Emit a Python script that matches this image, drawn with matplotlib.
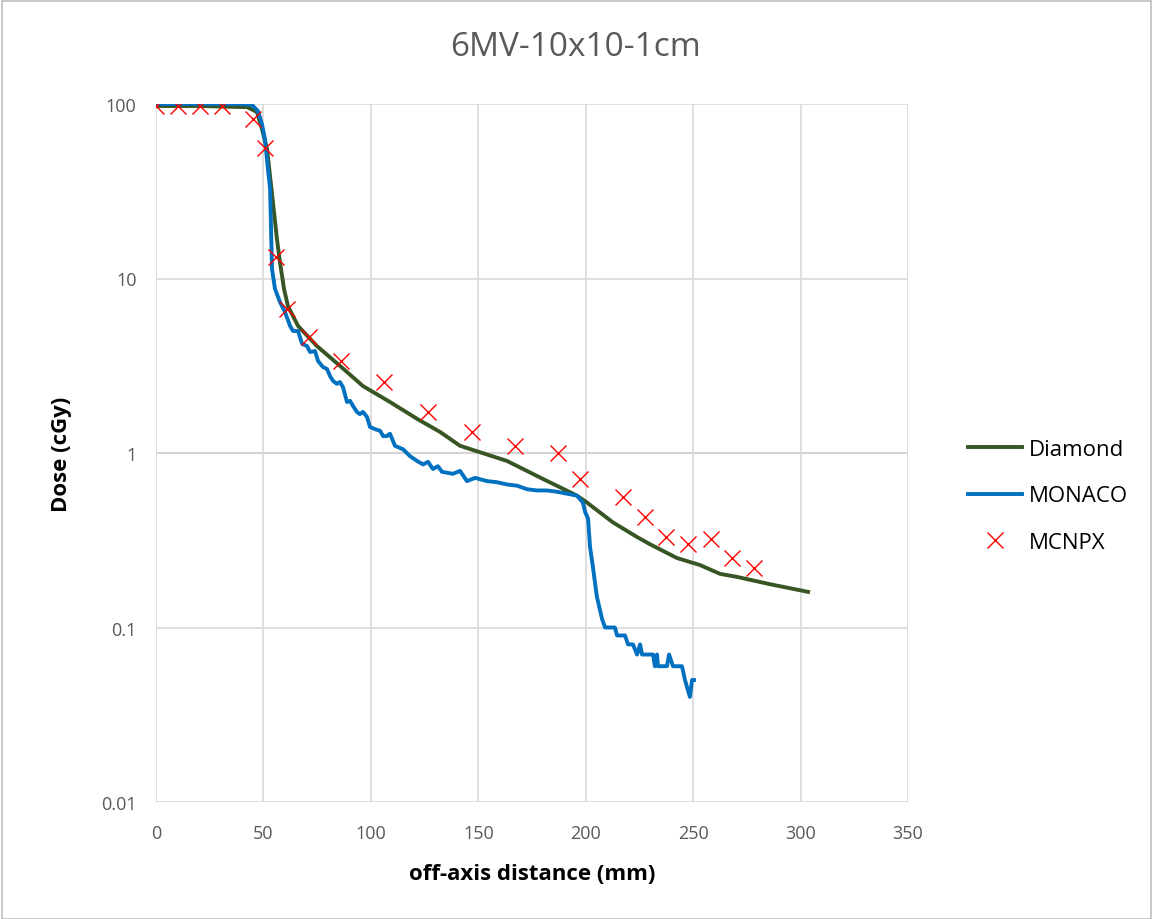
import matplotlib
matplotlib.use("Agg")
import matplotlib.pyplot as plt
from matplotlib.patches import Rectangle

title = "6MV-10x10-1cm"
xlabel = "off-axis distance (mm)"
ylabel = "Dose (cGy)"

diamond_x = [0, 20.5, 39.1, 42.4, 47.0, 49.3, 51.7, 54.0, 56.3, 57.7, 59.6, 61.4, 66.1, 74.9,
             85.6, 96.3, 108.9, 121.5, 132.2, 141.5, 150.8, 163.4, 180.1, 195.9, 200.6, 212.7,
             223.9, 229.9, 242.5, 253.2, 262.5, 270.4, 285.8, 303.5]
diamond_y = [97.4, 97.4, 96.1, 96.0, 90, 72, 55, 30.5, 16.8, 12.4, 8.7, 6.95, 5.35, 4.1,
             3.16, 2.42, 1.96, 1.57, 1.32, 1.10, 1.01, 0.90, 0.71, 0.57, 0.52, 0.40,
             0.33, 0.30, 0.25, 0.228, 0.203, 0.195, 0.177, 0.16]

monaco_x = [0, 39.1, 44.7, 47.5, 49.3, 50.7, 52.1, 53.1, 54.0, 55.4, 57.7, 60.0, 62.4, 63.8,
            66.1, 68.0, 70.3, 71.7, 74.0, 75.4, 77.7, 79.6, 81.0, 82.4, 84.2, 85.6, 87.0,
            88.9, 90.3, 91.7, 93.5, 94.9, 96.3, 98.2, 99.6, 101.9, 104.3, 105.7, 107.5,
            108.9, 111.2, 115.0, 118.2, 121.5, 124.3, 126.6, 128.9, 131.2, 133.1, 138.2,
            141.5, 144.7, 148.5, 154.1, 158.7, 163.4, 168.0, 172.7, 177.3, 182.0, 186.6,
            192.7, 195.9, 198.7, 199.7, 201.1, 202.0, 203.4, 205.2, 207.6, 209.0, 213.6,
            214.6, 218.3, 219.7, 222.0, 223.9, 225.3, 226.2, 231.3, 232.2, 233.2, 233.6,
            237.8, 238.8, 240.6, 244.8, 246.2, 248.5, 249.5, 250.4]
monaco_y = [100, 100, 98.7, 91, 76.8, 63, 42.5, 32.6, 11.3, 8.7, 7.33, 6.43, 5.35, 5.0,
            5.0, 4.22, 4.10, 3.79, 3.84, 3.37, 3.11, 3.03, 2.76, 2.59, 2.49, 2.55, 2.39,
            1.96, 1.99, 1.86, 1.72, 1.67, 1.72, 1.61, 1.41, 1.37, 1.34, 1.25, 1.25,
            1.29, 1.10, 1.05, 0.96, 0.90, 0.86, 0.89, 0.81, 0.84, 0.78, 0.76,
            0.79, 0.69, 0.72, 0.69, 0.68, 0.66, 0.65, 0.62, 0.61, 0.61, 0.60,
            0.58, 0.57, 0.52, 0.46, 0.42, 0.29, 0.22, 0.15, 0.112, 0.10, 0.10,
            0.09, 0.09, 0.08, 0.08, 0.07, 0.08, 0.07, 0.07, 0.06, 0.07, 0.06,
            0.06, 0.07, 0.06, 0.06, 0.05, 0.04, 0.05, 0.05]

mcnpx_x = [0, 10.2, 20.5, 30.7, 45.1, 50.7, 55.9, 61.0, 71.2, 86.1, 106.1, 126.6, 147.0,
           167.0, 187.0, 197.3, 217.3, 227.6, 237.4, 247.6, 258.3, 268.0, 278.3]
mcnpx_y = [97.4, 98, 98, 98, 82, 56, 13.3, 6.7, 4.6, 3.37, 2.55, 1.72, 1.32,
           1.10, 1.0, 0.71, 0.56, 0.43, 0.33, 0.30, 0.32, 0.25, 0.22]

xticks = [0, 50, 100, 150, 200, 250, 300, 350]
yticks = [0.01, 0.1, 1, 10, 100]
ytick_labels = ["0.01", "0.1", "1", "10", "100"]

plt.rcParams['font.family'] = ['Open Sans', 'DejaVu Sans']

W, H = 1153, 920
fig = plt.figure(figsize=(W / 100, H / 100), dpi=100)
ax = fig.add_axes([156 / W, 1 - 803 / H, (908 - 156) / W, (803 - 105) / H])

ax.plot(diamond_x, diamond_y, color="#375623", lw=2.8, label="Diamond", zorder=3,
        solid_joinstyle="round")
ax.plot(monaco_x, monaco_y, color="#0070C0", lw=2.8, label="MONACO", zorder=4,
        solid_joinstyle="round")
ax.plot(mcnpx_x, mcnpx_y, linestyle="none", marker="x", color="#FF0000", ms=11,
        mew=1.0, label="MCNPX", zorder=5)

ax.set_yscale("log")
ax.set_xlim(0, 350)
ax.set_ylim(0.01, 100)
ax.set_xticks(xticks)
ax.set_yticks(yticks)
ax.set_yticklabels(ytick_labels)
ax.minorticks_off()
ax.tick_params(axis="both", length=0, labelsize=13, labelcolor="#595959")
ax.tick_params(axis="x", pad=16)
ax.tick_params(axis="y", pad=14)
ax.grid(True, color="#d9d9d9", lw=1.2, zorder=0)
ax.axhline(1, color="#bfbfbf", lw=1.5, zorder=1)
for s in ["top", "right", "left", "bottom"]:
    ax.spines[s].set_visible(False)

ax.set_xlabel(xlabel, fontsize=16, fontweight="bold", color="black", labelpad=15)
ax.set_ylabel(ylabel, fontsize=16, fontweight="bold", color="black", labelpad=21)

fig.suptitle(title, x=576 / W, y=1 - 48 / H, va="center", fontsize=24, color="#595959")

leg = fig.legend(loc="center left", bbox_to_anchor=(948 / W, 1 - 497 / H), frameon=False,
                 fontsize=16, handlelength=2.45, labelspacing=1.15, handletextpad=0.3)

fig.patches.append(Rectangle((2 / W, 0), 1 - 4 / W, 1 - 2 / H, transform=fig.transFigure,
                             fill=False, edgecolor="#bfbfbf", lw=1.2))

fig.savefig("out.png", dpi=100)
